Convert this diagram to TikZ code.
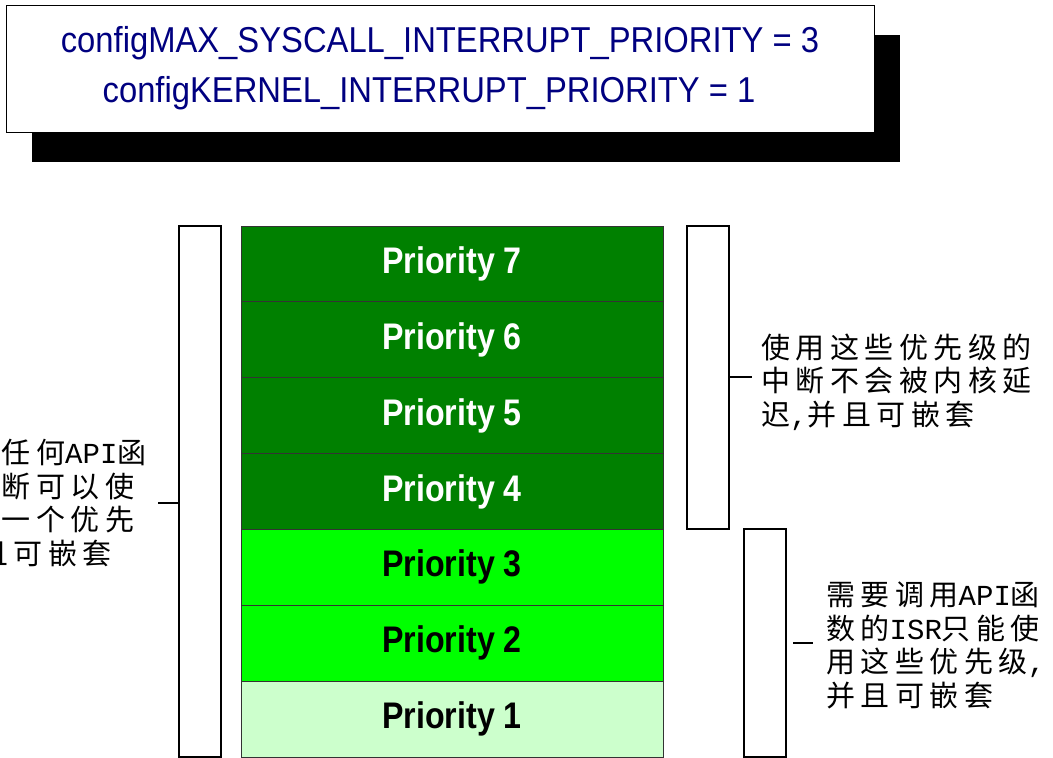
\documentclass[tikz,border=0pt]{standalone}
\usepackage{fontspec}
\setmainfont{Liberation Sans}
\newfontfamily\cjk[LetterSpace=19]{Noto Sans CJK SC}
\newfontfamily\halfw{Liberation Mono}
\newfontfamily\prifont[FakeStretch=0.87]{Liberation Sans}
\newfontfamily\hdrfont[FakeStretch=0.91]{Liberation Sans}
\usetikzlibrary{shadows}
\definecolor{navy}{RGB}{0,0,128}
\definecolor{darkgreen}{RGB}{0,128,0}
\definecolor{brightgreen}{RGB}{0,255,0}
\definecolor{palegreen}{RGB}{204,255,204}

\begin{document}
\begin{tikzpicture}[x=1pt,y=-1pt,
    prio/.style={draw=black!80,line width=1pt,minimum width=422pt,minimum height=75.86pt,
                 inner sep=0pt,font=\prifont\fontsize{37}{40}\selectfont\bfseries},
    bracket/.style={draw,line width=2pt,fill=white,minimum width=42pt,inner sep=0pt},
    note/.style={font=\cjk\fontsize{29}{33.5}\selectfont,align=left,anchor=base west,inner sep=0pt}]
    \useasboundingbox (0,0) rectangle (1053,758);
    \clip (0,0) rectangle (1053,758);

    % Header with the two config values
    \node[draw,line width=0.8pt,fill=white,minimum width=868pt,minimum height=127pt,
          drop shadow={shadow xshift=26pt,shadow yshift=-30pt,fill=black,opacity=1},
          align=center,text=navy,font=\hdrfont\fontsize{36}{50}\selectfont] (hdr) at (440,68.5)
        {configMAX\_SYSCALL\_INTERRUPT\_PRIORITY = 3\\configKERNEL\_INTERRUPT\_PRIORITY = 1\hspace*{22pt}};

    % Priority levels
    \foreach \n/\fc/\tc [count=\k from 0] in {7/darkgreen/white, 6/darkgreen/white,
            5/darkgreen/white, 4/darkgreen/white, 3/brightgreen/black,
            2/brightgreen/black, 1/palegreen/black} {
        \node[prio,fill=\fc,text=\tc] (p\n) at (452,{226+75.86*(\k+0.5)}) {Priority \n};
    }

    % Brackets
    \node[bracket,minimum height=531pt] (lbrk) at (199.5,491.5) {};
    \node[bracket,minimum height=303pt] (rbrk1) at (708,377.5) {};
    \node[bracket,minimum height=228pt] (rbrk2) at (765,643) {};

    % Ticks
    \coordinate (ltick) at (158,503);
    \coordinate (rtick1) at (752,377);
    \coordinate (rtick2a) at (793,643);
    \coordinate (rtick2b) at (813,643);
    \draw[line width=2pt] (lbrk.west |- ltick) -- (ltick);
    \draw[line width=2pt] (rbrk1.east |- rtick1) -- (rtick1);
    \draw[line width=2pt] (rtick2a) -- (rtick2b);

    % Notes (base = last line)
    \node[note] (lnote) at (-102,564) {不调用任何{\halfw API}函\\数的中断可以使\\用任何一个优先\\级{\halfw ,}并且可嵌套};
    \node[note] (rnote1) at (761,425) {使用这些优先级的\\中断不会被内核延\\迟{\halfw ,}并且可嵌套};
    \node[note] (rnote2) at (826,706) {需要调用{\halfw API}函\\数的{\halfw ISR}只能使\\用这些优先级{\halfw ,}\\并且可嵌套};
\end{tikzpicture}
\end{document}
